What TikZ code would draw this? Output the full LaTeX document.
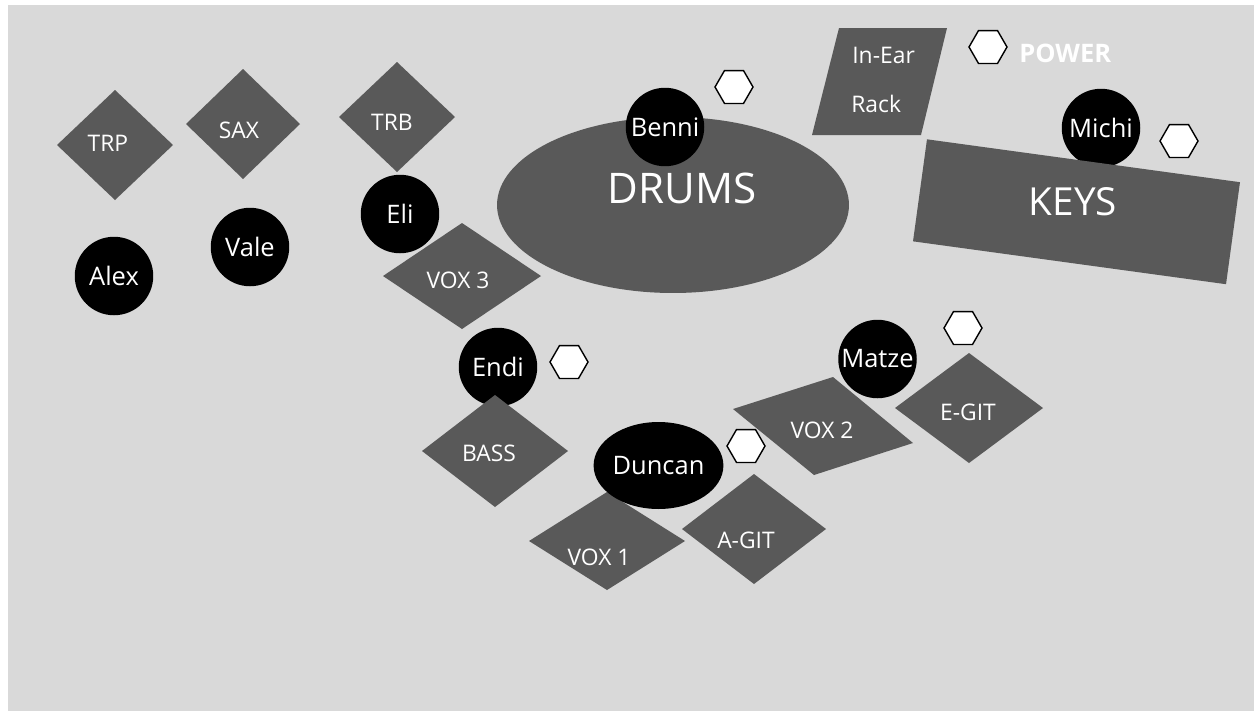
\documentclass[tikz,border=0pt]{standalone}
\usepackage{fontspec}
\setmainfont{Open Sans}
\usetikzlibrary{shapes.geometric}
\definecolor{stagegrey}{HTML}{D9D9D9}
\definecolor{gear}{HTML}{595959}
\tikzset{
  person/.style={circle, fill=black, text=white, inner sep=0pt, minimum size=1.57cm,
    font=\fontsize{14.5}{16}\selectfont},
  plug/.style={regular polygon, regular polygon sides=6, draw=black, fill=white,
    line width=.8pt, inner sep=0pt, minimum size=.76cm},
  lbl/.style={text=white, inner sep=0pt, font=\fontsize{13}{15}\selectfont},
  biglbl/.style={lbl, font=\fontsize{24}{28}\selectfont},
}
\begin{document}
\begin{tikzpicture}[x=.02cm,y=-.02cm]
  \useasboundingbox (0,0) rectangle (1254,711);
  \fill[white] (0,0) rectangle (1254,711);
  \fill[stagegrey] (8,5) rectangle (1254,711);
  % players behind their gear
  \node[person] (endi) at (498,367) {Endi};
  \node[person] (michi) at (1101,128) {Michi};
  % gear
  \foreach \cx/\cy/\hw/\hh in {115/145/58/55, 243/124/57/55, 397/117/58/55, 462/276/79/53,
      495/451/73/56, 607/541/78/49, 754/529/72/55, 969/408/74/55}
    \fill[gear] (\cx-\hw,\cy) -- (\cx,\cy-\hh) -- (\cx+\hw,\cy) -- (\cx,\cy+\hh) -- cycle;
  \fill[gear] (733,409) -- (833,377) -- (913,443) -- (814,475) -- cycle;
  \fill[gear] (839,28) -- (947,28) -- (921,135) -- (812,135) -- cycle;
  \node[ellipse, fill=gear, inner sep=0pt, minimum width=7.04cm, minimum height=3.52cm] (drums) at (673,205) {};
  \node[fill=gear, rotate=-7.8, inner sep=0pt, minimum width=6.32cm, minimum height=2.06cm] (keys) at (1076.5,211.75) {};
  % players
  \node[person] (alex) at (114,276) {Alex};
  \node[person] (vale) at (250,247) {Vale};
  \node[person] (eli) at (400,214) {Eli};
  \node[person] (benni) at (665,127) {Benni};
  \node[person, ellipse, minimum width=2.22cm, minimum height=1.74cm] (duncan) at (658.5,465.5) {Duncan};
  \node[person] (matze) at (877.5,359) {\raisebox{-5pt}{Matze}};
  % power
  \foreach \n/\x/\y in {benni-pwr/734/87, main-pwr/988/47, michi-pwr/1179/141,
      endi-pwr/569/362, duncan-pwr/746/446, matze-pwr/963/328}
    \node[plug] (\n) at (\x,\y) {};
  \node[lbl, anchor=west, font=\fontsize{14.5}{17}\bfseries] (power) at (1019,53) {POWER};
  % labels
  \foreach \n/\x/\y/\t in {trp-t/108/143/TRP, sax-t/239/130/SAX, trb-t/392/122/TRB,
      vox3-t/458/280/VOX 3, bass-t/489/453/BASS, vox1-t/599/557/VOX 1,
      agit-t/746/540/A-GIT, egit-t/968/412/E-GIT, vox2-t/822/430/VOX 2}
    \node[lbl] (\n) at (\x,\y) {\t};
  \node[lbl, anchor=west] (inear-t) at (852,55) {In-Ear};
  \node[lbl, anchor=west] (rack-t) at (851,104) {Rack};
  \node[biglbl] (drums-t) at (682,188) {DRUMS};
  \node[biglbl, font=\fontsize{22}{26}\selectfont] (keys-t) at (1073,202) {KEYS};
\end{tikzpicture}
\end{document}
